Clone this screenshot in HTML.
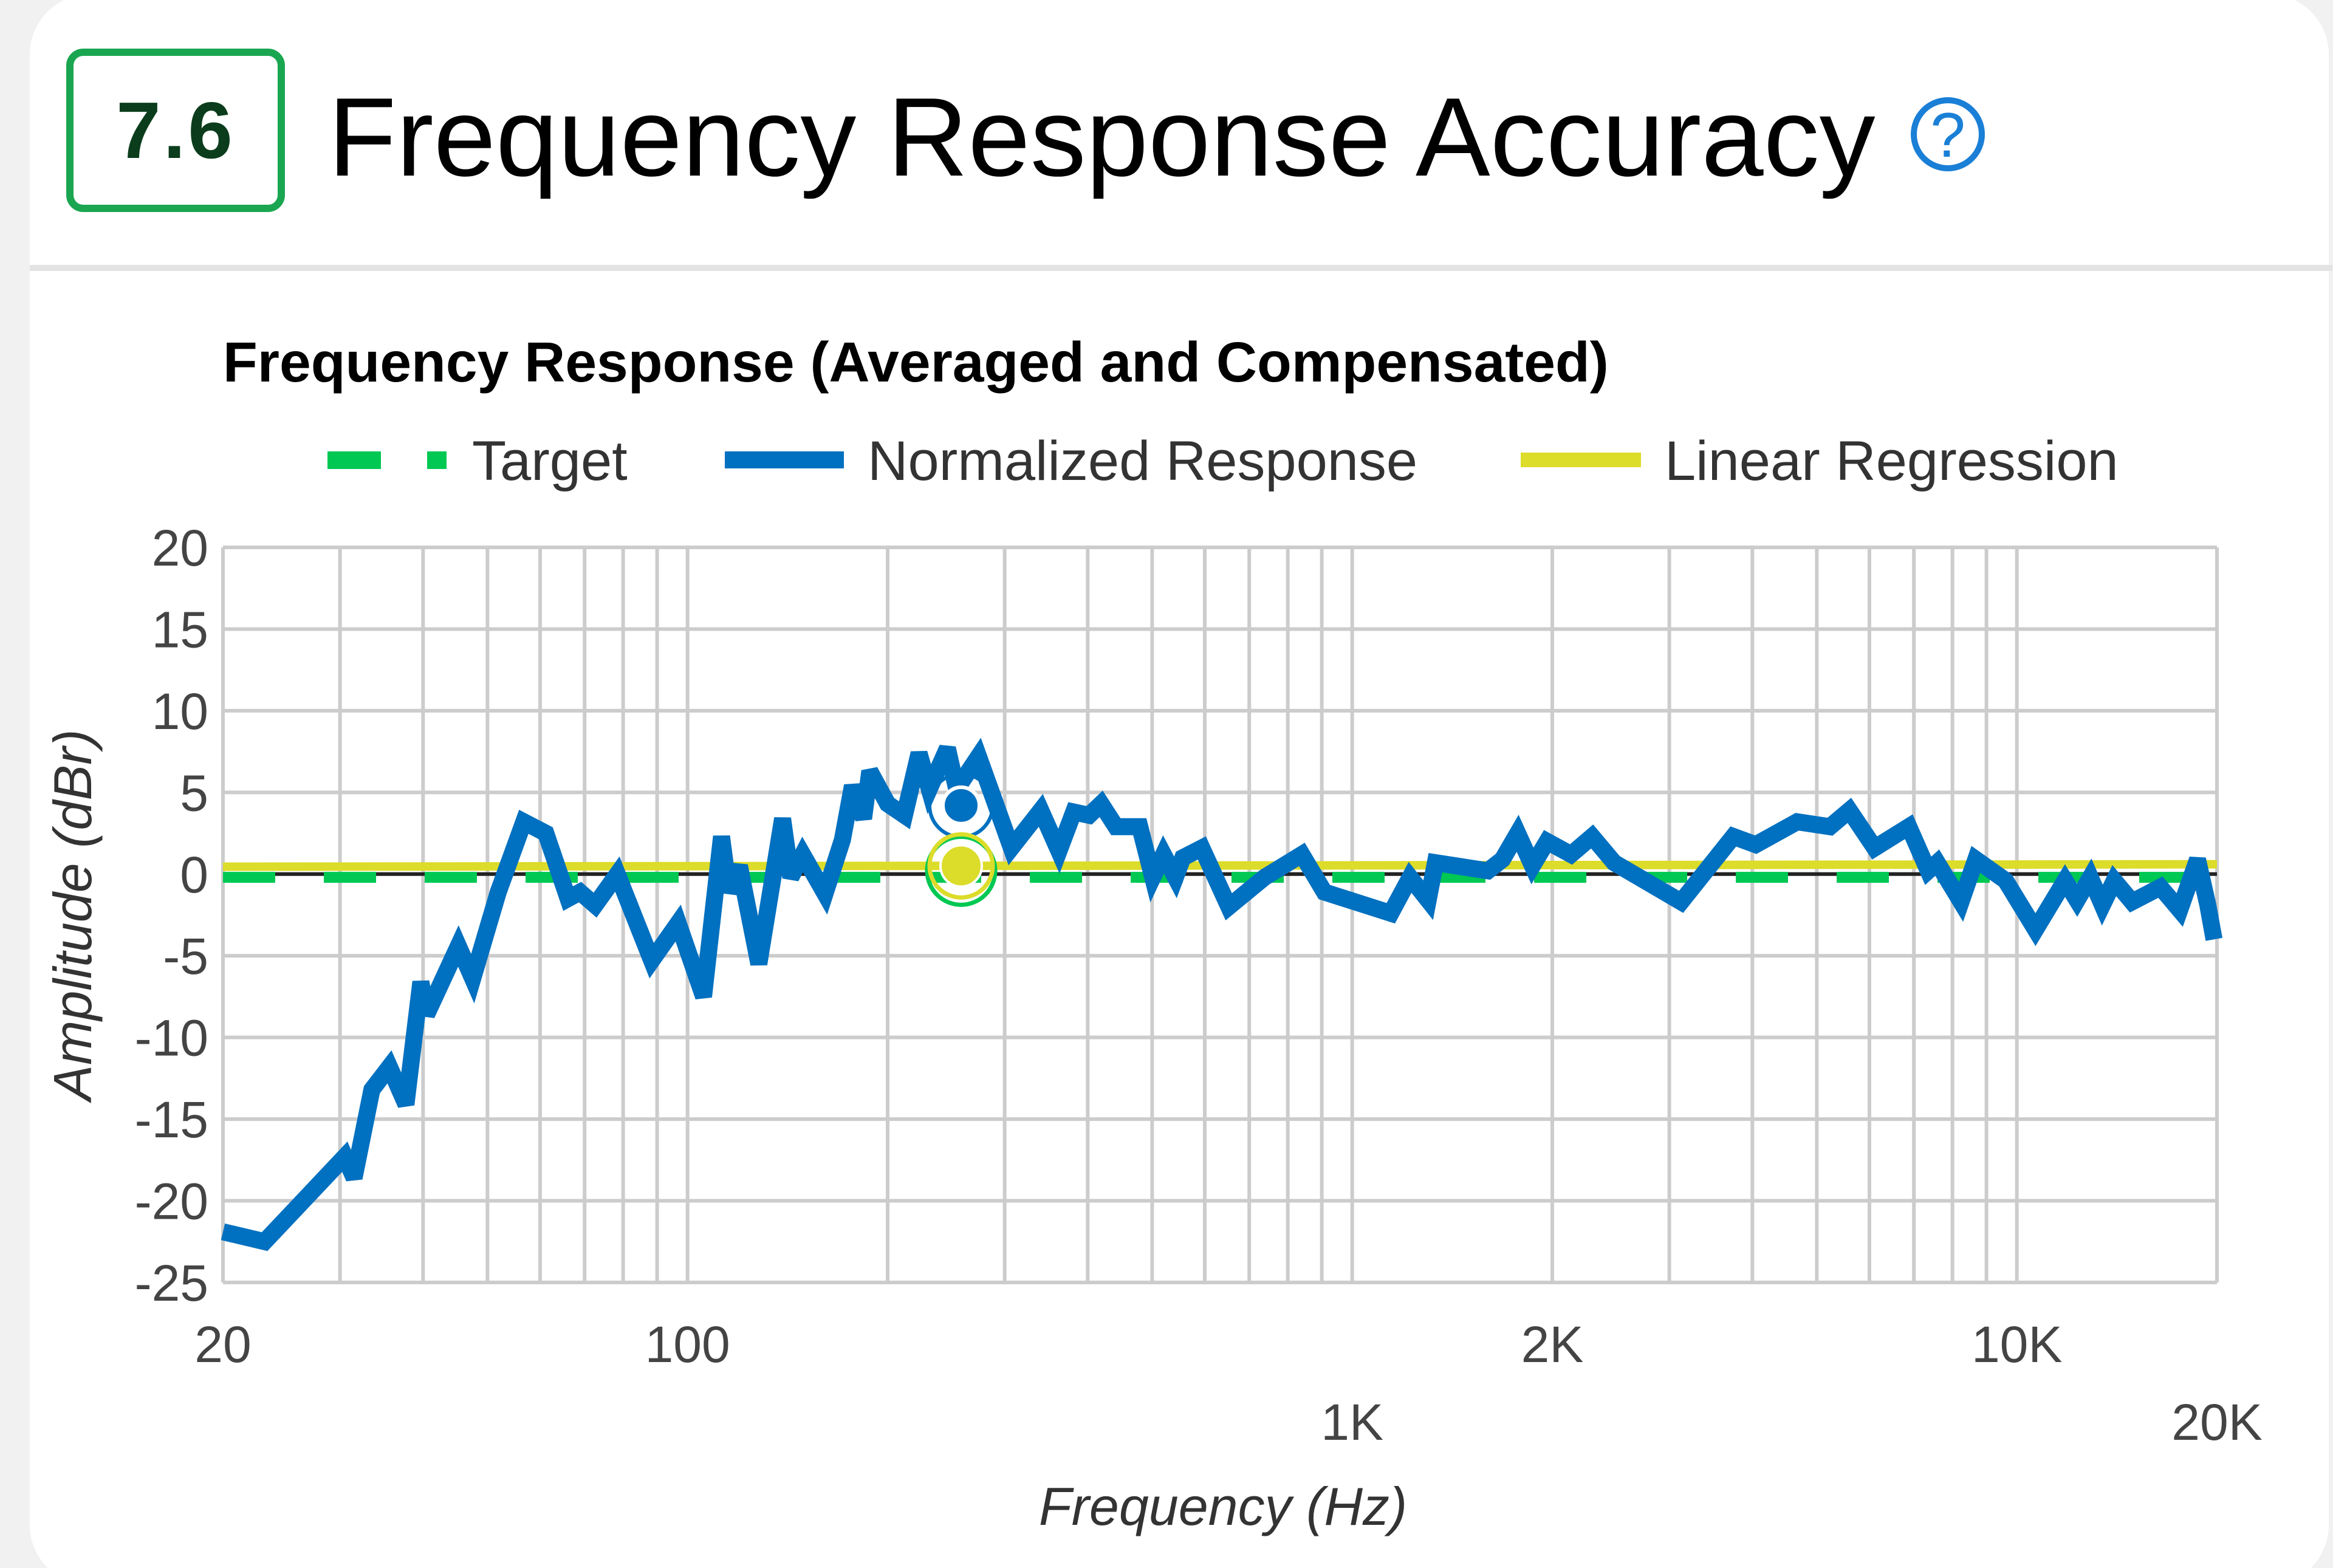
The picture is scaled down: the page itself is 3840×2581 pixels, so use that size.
<!DOCTYPE html>
<html><head><meta charset="utf-8"><style>
html,body{margin:0;padding:0;background:#f1f1f1;}
svg{display:block;font-family:"Liberation Sans",sans-serif;}
</style></head><body>
<svg id="root" width="3840" height="2581" viewBox="0 0 3840 2581" xmlns="http://www.w3.org/2000/svg">
<rect x="0" y="0" width="3840" height="2581" fill="#f1f1f1"/>
<rect x="49" y="-10" width="3784" height="2620" rx="100" fill="#ffffff"/>
<rect x="115" y="86" width="348" height="257" rx="22" fill="#fff" stroke="#1aa650" stroke-width="12"/>
<text x="289" y="260" text-anchor="middle" font-size="132" font-weight="bold" fill="#0b3d1c" letter-spacing="4">7.6</text>
<text x="540" y="289" font-size="184" fill="#000">Frequency Response Accuracy</text>
<g>
<circle cx="3206" cy="221" r="56" fill="none" stroke="#1a7fd6" stroke-width="10"/>
<text x="3206" y="258" text-anchor="middle" font-size="104" fill="#1a7fd6">?</text>
</g>
<rect x="49" y="436" width="3790" height="10" fill="#e3e3e3"/>
<text x="367" y="628" font-size="93" font-weight="bold" fill="#000">Frequency Response (Averaged and Compensated)</text>
<g>
<g>
<rect x="539" y="743" width="88" height="29" fill="#00c853"/><rect x="703" y="743" width="32" height="29" fill="#00c853"/>
<text x="777" y="790" font-size="92" fill="#333">Target</text></g>
<g>
<rect x="1193" y="743" width="196" height="28" fill="#0070c0"/>
<text x="1428" y="790" font-size="92" fill="#333">Normalized Response</text></g>
<g>
<rect x="2503" y="745" width="198" height="24" fill="#dcdc2a"/>
<text x="2740" y="790" font-size="92" fill="#333">Linear Regression</text></g>
</g>
<g id="grid"></g>
<g id="ylabels"></g>
<g id="xlabels"></g>
<g id="series"></g>
<text transform="translate(150,1506) rotate(-90)" text-anchor="middle" font-size="88" font-style="italic" fill="#333">Amplitude (dBr)</text>
<text x="2013" y="2510" text-anchor="middle" font-size="88" font-style="italic" fill="#333">Frequency (Hz)</text>
</svg>
<script>
const freqs=[20,23.1,30.5,31.5,33.5,35.6,37.7,39.7,40.5,45.2,47.5,51.9,56.7,61.2,66.1,68.9,72.6,78.4,88.3,96.8,105.7,112.5,115.4,119.7,128,139,143,149,161,171,177,184,188,200,212,223,231,246,254,274,307,340,362,381,402,419,441,479,501,520,542,556,594,652,738,840,908,1143,1222,1301,1334,1600,1683,1774,1867,1964,2134,2296,2478,3125,3744,4046,4671,5234,5598,6110,6877,7354,7589,8240,8673,9616,10665,11815,12317,12899,13446,14014,14904,16444,17579,18698,19380,19800];
const response=[-21.9,-22.5,-17.3,-18.6,-13.2,-11.8,-14.1,-6.6,-8.6,-4.4,-6.4,-1.1,3.2,2.5,-1.5,-1.1,-1.9,0,-5.3,-3.0,-7.5,2.3,-1.1,0.5,-5.5,3.4,-0.2,1.2,-1.2,2.1,5.4,3.4,6.3,4.3,3.6,7.4,5.2,7.7,5.2,7.2,1.6,3.9,1.4,3.8,3.6,4.3,2.9,2.9,-0.2,1.2,-0.2,1.0,1.6,-2.0,-0.2,1.2,-1.1,-2.4,-0.2,-1.6,0.7,0.2,0.9,2.5,0.5,2.0,1.2,2.3,0.7,-1.7,2.3,1.8,3.2,2.9,3.9,1.6,2.9,0.2,0.7,-1.7,0.9,-0.4,-3.4,-0.4,-1.6,-0.2,-1.9,-0.4,-1.7,-0.8,-2.2,0.9,-1.9,-4.0];
const targetLevel=[-0.2,-0.2];
const regression=[0.45,0.6];
const markerFreq=[258];
const markerValues=[4.2,0.5];
const yTicks=[20,15,10,5,0,-5,-10,-15,-20,-25];
const xGrid=[20,30,40,50,60,70,80,90,100,200,300,400,500,600,700,800,900,1000,2000,3000,4000,5000,6000,7000,8000,9000,10000,20000];
const xTickVals=[20,100,1000,2000,10000,20000];
const xTickText=["20","100","1K","2K","10K","20K"];
const xTickRow=[0,0,1,0,0,1];

const L=367,R=3649,T=901,B=2111;
const X=f=>L+(Math.log10(f)-Math.log10(20))/3*(R-L);
const Y=v=>T+(20-v)/45*(B-T);
const NS="http://www.w3.org/2000/svg";
function mk(tag,attrs,parent){const e=document.createElementNS(NS,tag);for(const k in attrs)e.setAttribute(k,attrs[k]);parent.appendChild(e);return e;}
const grid=document.getElementById('grid');
xGrid.forEach(f=>{const e=mk('line',{x1:X(f),x2:X(f),y1:T,y2:B,stroke:'#cccccc','stroke-width':6},grid);

});
yTicks.forEach(v=>{const e=mk('line',{x1:L,x2:R,y1:Y(v),y2:Y(v),stroke:'#cccccc','stroke-width':6},grid);

});
const yl=document.getElementById('ylabels');
yTicks.forEach(v=>{const t=mk('text',{x:343,y:Y(v)+30,'text-anchor':'end','font-size':84,fill:'#444'},yl);t.textContent=String(v);

});
const xl=document.getElementById('xlabels');
xTickVals.forEach((f,i)=>{const t=mk('text',{x:X(f),y:xTickRow[i]?2370:2242,'text-anchor':'middle','font-size':84,fill:'#444'},xl);t.textContent=xTickText[i];

});
const s=document.getElementById('series');
const zero=mk('line',{x1:L,x2:R,y1:Y(0),y2:Y(0),stroke:'#222','stroke-width':6},s);


const tg=mk('line',{x1:L,x2:R,y1:Y(targetLevel[0]),y2:Y(targetLevel[1]),stroke:'#00c853','stroke-width':18,'stroke-dasharray':'86 80'},s);


const rg=mk('line',{x1:L,x2:R,y1:Y(regression[0]),y2:Y(regression[1]),stroke:'#dcdc2a','stroke-width':14},s);


const pts=freqs.map((f,i)=>X(f).toFixed(1)+','+Y(response[i]).toFixed(1)).join(' ');
const rl=mk('polyline',{points:pts,fill:'none',stroke:'#0070c0','stroke-width':28,'stroke-linejoin':'miter','stroke-miterlimit':3},s);


const mx=X(markerFreq[0]);
const m1=mk('circle',{cx:mx,cy:Y(markerValues[0]),r:30,fill:'#0070c0',stroke:'#fff','stroke-width':6},s);


const m0=mk('circle',{cx:mx,cy:Y(markerValues[0]),r:52,fill:'none',stroke:'#0070c0','stroke-width':6},s);


const g1=mk('circle',{cx:mx,cy:Y(markerValues[1])+8,r:56,fill:'none',stroke:'#00c853','stroke-width':7},s);


const y1=mk('circle',{cx:mx,cy:Y(markerValues[1]),r:52,fill:'none',stroke:'#dcdc2a','stroke-width':7},s);


const y2=mk('circle',{cx:mx,cy:Y(markerValues[1]),r:34,fill:'#dcdc2a',stroke:'#fff','stroke-width':4},s);


</script>
</body></html>
